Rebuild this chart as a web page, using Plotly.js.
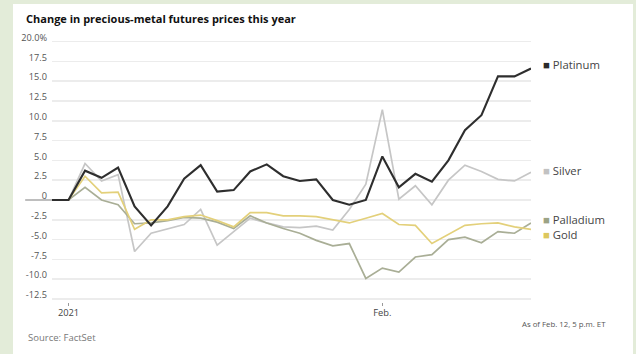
<!DOCTYPE html>
<html>
<head>
<meta charset="utf-8">
<script src="https://cdn.plot.ly/plotly-3.0.1.min.js"></script>
<style>
  html, body { margin: 0; padding: 0; background: #e3ecd9; width: 636px; height: 354px; overflow: hidden; }
  #chart { position: absolute; left: 13px; top: 4px; width: 620px; height: 350px; background: #ffffff; }
</style>
</head>
<body>
<div id="chart"></div>
<script>
// Trading days (category axis)
const dates = ['2020-12-31','2021-01-04','2021-01-05','2021-01-06','2021-01-07','2021-01-08',
  '2021-01-11','2021-01-12','2021-01-13','2021-01-14','2021-01-15',
  '2021-01-19','2021-01-20','2021-01-21','2021-01-22',
  '2021-01-25','2021-01-26','2021-01-27','2021-01-28','2021-01-29',
  '2021-02-01','2021-02-02','2021-02-03','2021-02-04','2021-02-05',
  '2021-02-08','2021-02-09','2021-02-10','2021-02-11','2021-02-12'];

// Percent change since start of year
const platinum  = [0, 0, 3.7, 2.8, 4.1, -0.8, -3.2, -0.8, 2.7, 4.4, 1.05, 1.25, 3.6, 4.5, 3.0,
                   2.4, 2.6, 0.0, -0.6, 0.0, 5.5, 1.6, 3.3, 2.3, 5.0, 8.8, 10.7, 15.6, 15.6, 16.6];
const silver    = [0, 0, 4.6, 2.4, 3.2, -6.5, -4.2, -3.6, -3.1, -1.2, -5.7, -4.0, -2.3, -2.9, -3.4,
                   -3.5, -3.3, -3.8, -1.2, 2.0, 11.4, 0.1, 1.8, -0.6, 2.5, 4.4, 3.6, 2.6, 2.4, 3.5];
const palladium = [0, 0, 1.6, 0.0, -0.6, -3.0, -2.9, -2.6, -2.2, -2.3, -2.8, -3.6, -2.0, -2.9, -3.6,
                   -4.2, -5.1, -5.8, -5.5, -9.9, -8.6, -9.1, -7.2, -6.9, -5.0, -4.7, -5.4, -4.0, -4.2, -2.9];
const gold      = [0, 0, 3.0, 0.9, 1.0, -3.7, -2.5, -2.5, -2.1, -1.9, -2.6, -3.4, -1.6, -1.6, -2.0,
                   -2.0, -2.1, -2.5, -2.9, -2.3, -1.7, -3.1, -3.2, -5.5, -4.3, -3.2, -3.0, -2.9, -3.4, -3.7];

const yTickVals = [-12.5, -10, -7.5, -5, -2.5, 0, 2.5, 5, 7.5, 10, 12.5, 15, 17.5, 20];
const yTickText = ['-12.5', '-10.0', '-7.5', '-5.0', '-2.5', '0', '2.5', '5.0', '7.5', '10.0', '12.5', '15.0', '17.5', '20.0%'];
const xTickVals = ['2021-01-04', '2021-02-01'];
const xTickText = ['2021', 'Feb.'];

const seriesNames = ['Silver', 'Palladium', 'Gold', 'Platinum'];
const seriesData = [silver, palladium, gold, platinum];
const seriesColors = ['#c6c6c6', '#a9ae96', '#e3d07a', '#2e2e2e'];
const seriesWidths = [1.7, 1.7, 1.7, 2.1];

// Legend label positions (data y) and order
const labelNames = ['Platinum', 'Silver', 'Palladium', 'Gold'];
const labelY = [17.05, 3.7, -2.5, -4.4];
const labelColors = ['#2b2b2b', '#c2c2c2', '#9ca385', '#dcc75e'];

const FONT = 'Open Sans, Lato, sans-serif';

const traces = seriesNames.map((n, k) => ({
  type: 'scatter', mode: 'lines', name: n,
  x: dates, y: seriesData[k],
  line: { color: seriesColors[k], width: seriesWidths[k] },
  hoverinfo: 'skip'
}));

const annotations = labelNames.map((n, k) => ({
  xref: 'paper', yref: 'y', x: 1.021, y: labelY[k],
  xanchor: 'left', yanchor: 'middle', showarrow: false,
  text: '<span style="color:' + labelColors[k] + '">■</span> ' + n,
  font: { family: FONT, size: 11.3, color: '#444' }
}));
annotations.push({
  xref: 'paper', yref: 'paper', x: -0.054, y: -0.133, xanchor: 'left', yanchor: 'middle',
  showarrow: false, text: 'Source: FactSet', font: { family: FONT, size: 9.5, color: '#777' }
});
annotations.push({
  xref: 'paper', yref: 'paper', x: 1.161, y: -0.083, xanchor: 'right', yanchor: 'middle',
  showarrow: false, text: 'As of Feb. 12, 5 p.m. ET', font: { family: FONT, size: 7.8, color: '#555' }
});

const layout = {
  width: 620, height: 350,
  margin: { l: 39, r: 102, t: 34, b: 52 },
  paper_bgcolor: '#ffffff', plot_bgcolor: '#ffffff',
  showlegend: false,
  title: {
    text: 'Change in precious-metal futures prices this year',
    x: 0.021, xanchor: 'left', y: 0.957, yanchor: 'middle',
    font: { family: FONT, size: 11, color: '#111', weight: 'bold' }
  },
  xaxis: {
    type: 'category', range: [0, 29],
    tickvals: xTickVals, ticktext: xTickText,
    showgrid: false, zeroline: false, showline: false,
    ticks: 'outside', ticklen: 3, tickwidth: 1, tickcolor: '#999',
    ticklabelstandoff: -1,
    tickfont: { family: FONT, size: 9.3, color: '#444' }
  },
  yaxis: {
    range: [-12.88, 20.45],
    tickvals: yTickVals, ticktext: yTickText,
    showgrid: true, gridcolor: '#ececec', gridwidth: 1.5,
    zeroline: false, showline: false, ticks: '',
    ticklabelstandoff: 4, ticklabelshift: -4,
    tickfont: { family: FONT, size: 9.2, color: '#555' }
  },
  shapes: [{
    type: 'line', xref: 'paper', yref: 'y', x0: -0.056, x1: 1, y0: 0, y1: 0,
    line: { color: '#a9a9a9', width: 1.5 }, layer: 'below'
  }],
  annotations: annotations
};

Plotly.newPlot('chart', traces, layout, { displayModeBar: false, staticPlot: true });
</script>
</body>
</html>
